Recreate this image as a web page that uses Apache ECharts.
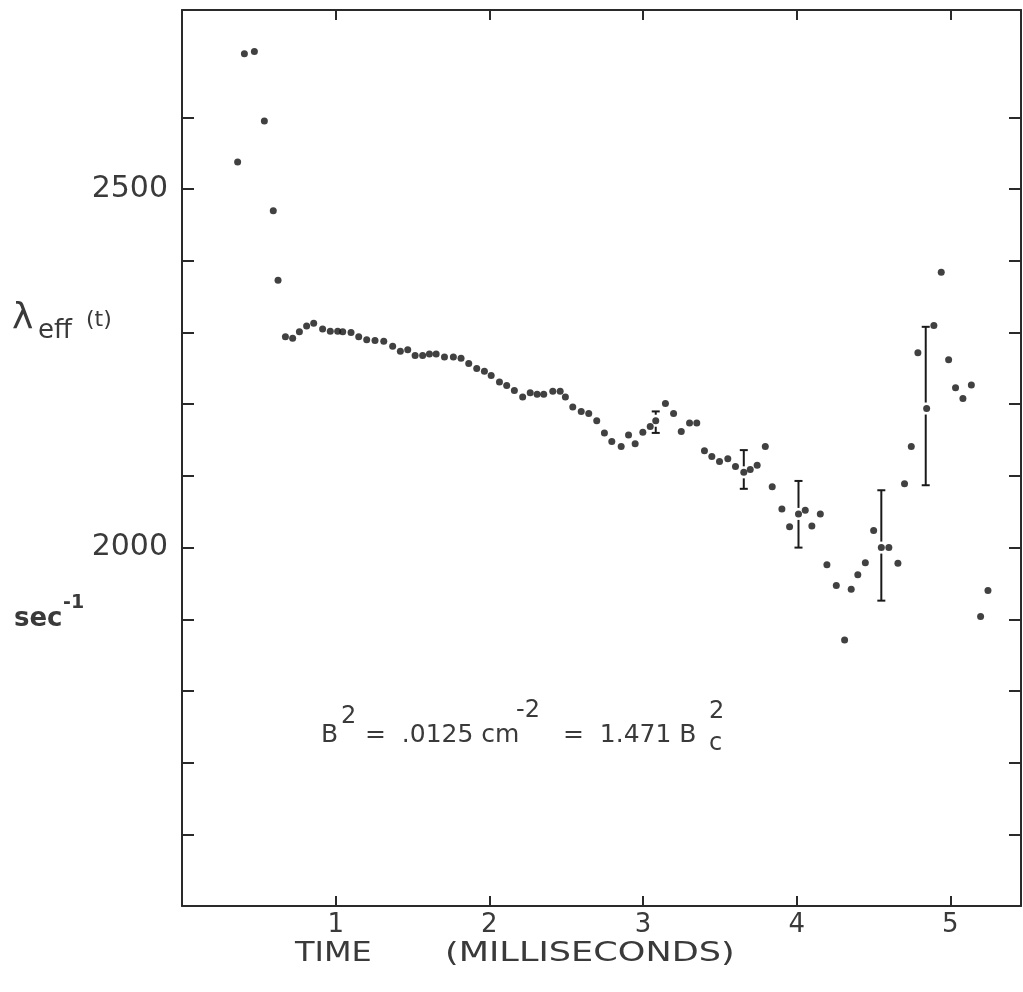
<!DOCTYPE html>
<html>
<head>
<meta charset="utf-8">
<script src="https://cdn.jsdelivr.net/npm/echarts@6/dist/echarts.min.js"></script>
<style>
  html, body { margin: 0; padding: 0; background: #ffffff; }
  #chart { width: 1023px; height: 992px; }
</style>
</head>
<body>
<div id="chart"></div>
<script>
// ---- data (time in ms, lambda_eff in 1/sec) ----
const timeValues = [
  0.362, 0.406, 0.471, 0.536, 0.594, 0.625,
  0.673, 0.720, 0.764, 0.811, 0.857, 0.915, 0.965, 1.013, 1.046, 1.100,
  1.150, 1.202, 1.256, 1.313, 1.371, 1.421, 1.469, 1.517, 1.566, 1.610,
  1.654, 1.708, 1.766, 1.816, 1.866, 1.918, 1.968, 2.012, 2.066, 2.113,
  2.163, 2.217, 2.266, 2.311, 2.354, 2.413, 2.461, 2.495, 2.543, 2.598,
  2.647, 2.699, 2.749, 2.797, 2.858, 2.906, 2.949, 2.999, 3.047, 3.083,
  3.146, 3.199, 3.249, 3.303, 3.350, 3.400, 3.448, 3.498, 3.552, 3.602,
  3.656, 3.698, 3.743, 3.796, 3.841, 3.904, 3.954, 4.012, 4.056, 4.099,
  4.154, 4.197, 4.258, 4.312, 4.355, 4.398, 4.447, 4.501, 4.551, 4.600,
  4.659, 4.702, 4.746, 4.789, 4.846, 4.893, 4.941, 4.989, 5.034, 5.082,
  5.137, 5.197, 5.245
];
const lambdaValues = [
  2538, 2689, 2692, 2595, 2470, 2373,
  2294, 2292, 2301, 2309, 2313, 2305, 2302, 2302, 2301, 2300,
  2294, 2290, 2289, 2288, 2281, 2274, 2276, 2268, 2268, 2270,
  2270, 2266, 2266, 2264, 2257, 2250, 2246, 2240, 2231, 2226,
  2219, 2210, 2216, 2214, 2214, 2218, 2218, 2210, 2196, 2190,
  2187, 2177, 2160, 2148, 2141, 2157, 2145, 2161, 2169, 2177,
  2201, 2187, 2162, 2174, 2174, 2135, 2127, 2120, 2124, 2113,
  2105, 2109, 2115, 2141, 2085, 2054, 2029, 2047, 2052, 2030,
  2047, 1976, 1947, 1871, 1942, 1962, 1979, 2024, 2000, 2000,
  1978, 2089, 2141, 2272, 2194, 2310, 2384, 2262, 2223, 2208,
  2227, 1904, 1940
];
// error bars
const errTime   = [3.083, 3.656, 4.012, 4.551, 4.840];
const errLow    = [2160, 2082, 2000, 1926, 2087];
const errHigh   = [2190, 2136, 2093, 2080, 2308];
const errCenter = [2177, 2105, 2047, 2000, 2194];

// axis ticks / labels
const xTickValues = [1, 2, 3, 4, 5];
const yTickValues = [1600, 1700, 1800, 1900, 2000, 2100, 2200, 2300, 2400, 2500, 2600];
const yLabelValues = [2000, 2500];

const pointData = timeValues.map((t, i) => [t, lambdaValues[i]]);
const errData = errTime.map((t, i) => [t, errLow[i], errHigh[i], errCenter[i]]);

const ink = '#2a2a2a';
const textInk = '#3a3a3a';
const FONT = 'DejaVu Sans';

const chart = echarts.init(document.getElementById('chart'), null, { renderer: 'canvas' });

const option = {
  animation: false,
  backgroundColor: '#ffffff',
  grid: [
    { left: 182, right: 2, top: 10, bottom: 86, containLabel: false },
    // thin strip at the right edge that carries the right-hand frame and its ticks
    { left: 1021, right: 0, top: 10, bottom: 86, containLabel: false }
  ],
  xAxis: [
    {
      gridIndex: 0, type: 'value', position: 'bottom', min: 0, max: 5.46,
      axisLine: { show: true, onZero: false, lineStyle: { color: ink, width: 2 } },
      splitLine: { show: false },
      axisTick: { show: true, inside: true, length: 10, customValues: xTickValues,
                  lineStyle: { color: ink, width: 2 } },
      axisLabel: { show: true, customValues: xTickValues, margin: 6,
                   fontFamily: FONT, fontSize: 26, color: textInk,
                   formatter: v => String(v) }
    },
    {
      gridIndex: 0, type: 'value', position: 'top', min: 0, max: 5.46,
      axisLine: { show: true, onZero: false, lineStyle: { color: ink, width: 2 } },
      splitLine: { show: false },
      axisTick: { show: true, inside: true, length: 10, customValues: xTickValues,
                  lineStyle: { color: ink, width: 2 } },
      axisLabel: { show: false }
    },
    {
      gridIndex: 1, type: 'value', min: 0, max: 1, show: false
    }
  ],
  yAxis: [
    {
      gridIndex: 0, type: 'value', position: 'left', min: 1500, max: 2750,
      axisLine: { show: true, onZero: false, lineStyle: { color: ink, width: 2 } },
      splitLine: { show: false },
      axisTick: { show: true, inside: true, length: 12, customValues: yTickValues,
                  lineStyle: { color: ink, width: 2 } },
      axisLabel: { show: true, margin: 14, fontFamily: FONT, fontSize: 30, color: textInk,
                   customValues: yLabelValues, formatter: v => String(v) }
    },
    {
      gridIndex: 1, type: 'value', position: 'left', min: 1500, max: 2750,
      axisLine: { show: true, onZero: false, lineStyle: { color: ink, width: 2 } },
      splitLine: { show: false },
      axisTick: { show: true, inside: false, length: 12, customValues: yTickValues,
                  lineStyle: { color: ink, width: 2 } },
      axisLabel: { show: false }
    }
  ],
  series: [
    {
      type: 'custom',
      xAxisIndex: 0, yAxisIndex: 0,
      data: errData,
      encode: { x: 0, y: [1, 2] },
      renderItem: function (params, api) {
        const x = api.value(0);
        const pLow = api.coord([x, api.value(1)]);
        const pHigh = api.coord([x, api.value(2)]);
        const pMid = api.coord([x, api.value(3)]);
        const gap = 6, cap = 4;
        const st = { stroke: '#1a1a1a', lineWidth: 2 };
        return {
          type: 'group',
          children: [
            { type: 'line', shape: { x1: pHigh[0] - cap, y1: pHigh[1], x2: pHigh[0] + cap, y2: pHigh[1] }, style: st },
            { type: 'line', shape: { x1: pLow[0] - cap, y1: pLow[1], x2: pLow[0] + cap, y2: pLow[1] }, style: st },
            { type: 'line', shape: { x1: pHigh[0], y1: pHigh[1], x2: pMid[0], y2: Math.max(pHigh[1], pMid[1] - gap) }, style: st },
            { type: 'line', shape: { x1: pLow[0], y1: pLow[1], x2: pMid[0], y2: Math.min(pLow[1], pMid[1] + gap) }, style: st }
          ]
        };
      },
      z: 2
    },
    {
      type: 'scatter',
      xAxisIndex: 0, yAxisIndex: 0,
      data: pointData,
      symbol: 'circle',
      symbolSize: 7,
      itemStyle: { color: '#111111' },
      z: 3
    }
  ],
  graphic: [
    { type: 'text', x: 12, y: 319, style: { text: 'λ', font: '36px "DejaVu Sans"', fill: textInk, verticalAlign: 'middle', align: 'left' } },
    { type: 'text', x: 38, y: 331, style: { text: 'eff', font: '26px "DejaVu Sans"', fill: textInk, verticalAlign: 'middle', align: 'left' } },
    { type: 'text', x: 86, y: 320, style: { text: '(t)', font: '22px "DejaVu Sans"', fill: textInk, verticalAlign: 'middle', align: 'left' } },
    { type: 'text', x: 14, y: 619, style: { text: 'sec', font: 'bold 26px "DejaVu Sans"', fill: textInk, verticalAlign: 'middle', align: 'left' } },
    { type: 'text', x: 63, y: 603, style: { text: '-1', font: 'bold 19px "DejaVu Sans"', fill: textInk, verticalAlign: 'middle', align: 'left' } },
    { type: 'text', x: 295, y: 954, scaleX: 1.23, style: { text: 'TIME', font: '26px "DejaVu Sans"', fill: textInk, verticalAlign: 'middle', align: 'left' } },
    { type: 'text', x: 445, y: 954, scaleX: 1.35, style: { text: '(MILLISECONDS)', font: '26px "DejaVu Sans"', fill: textInk, verticalAlign: 'middle', align: 'left' } },
    { type: 'text', x: 321, y: 735, style: { text: 'B', font: '25px "DejaVu Sans"', fill: textInk, verticalAlign: 'middle', align: 'left' } },
    { type: 'text', x: 341, y: 717, style: { text: '2', font: '24px "DejaVu Sans"', fill: textInk, verticalAlign: 'middle', align: 'left' } },
    { type: 'text', x: 365, y: 735, style: { text: '=  .0125 cm', font: '25px "DejaVu Sans"', fill: textInk, verticalAlign: 'middle', align: 'left' } },
    { type: 'text', x: 516, y: 711, style: { text: '-2', font: '24px "DejaVu Sans"', fill: textInk, verticalAlign: 'middle', align: 'left' } },
    { type: 'text', x: 563, y: 735, style: { text: '=  1.471 B', font: '25px "DejaVu Sans"', fill: textInk, verticalAlign: 'middle', align: 'left' } },
    { type: 'text', x: 709, y: 712, style: { text: '2', font: '24px "DejaVu Sans"', fill: textInk, verticalAlign: 'middle', align: 'left' } },
    { type: 'text', x: 709, y: 744, style: { text: 'c', font: '24px "DejaVu Sans"', fill: textInk, verticalAlign: 'middle', align: 'left' } }
  ]
};

chart.setOption(option);
</script>
</body>
</html>
